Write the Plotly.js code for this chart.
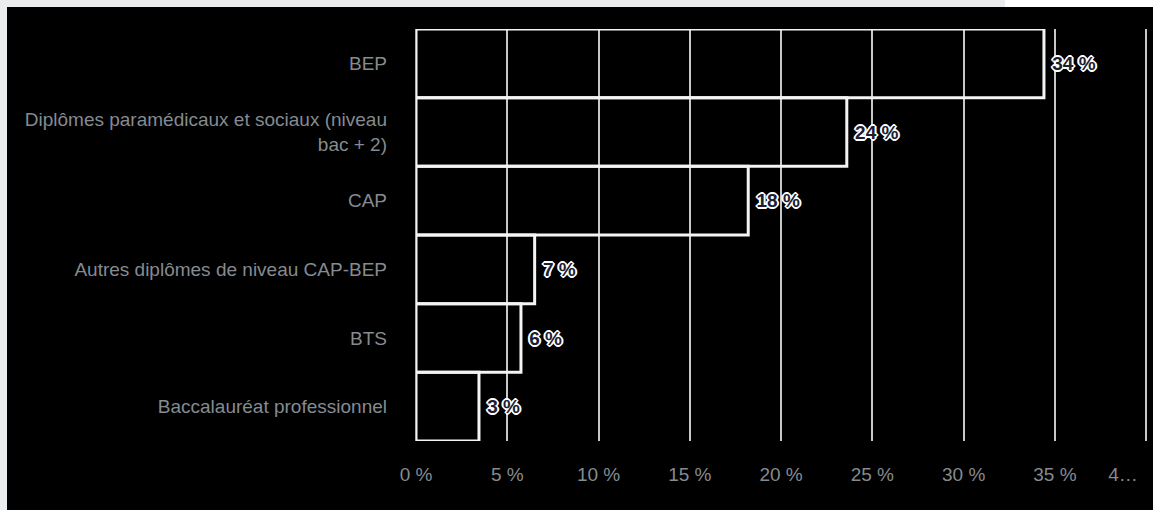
<!DOCTYPE html>
<html>
<head>
<meta charset="utf-8">
<script src="https://cdn.plot.ly/plotly-3.0.1.min.js"></script>
<style>
  html, body { margin: 0; padding: 0; width: 1153px; height: 510px; overflow: hidden; background: #ebecee; }
  #topwhite { position: absolute; left: 1005px; top: 0; width: 148px; height: 7px; background: #ffffff; }
  #chart { position: absolute; left: 7px; top: 7px; width: 1146px; height: 503px; background: #000; }
</style>
</head>
<body>
<div id="topwhite"></div>
<div id="chart"></div>
<script>
const categories = [
  "BEP",
  "Diplômes paramédicaux et sociaux (niveau<br>bac + 2)",
  "CAP",
  "Autres diplômes de niveau CAP-BEP",
  "BTS",
  "Baccalauréat professionnel"
];
const values = [34.4, 23.6, 18.2, 6.5, 5.75, 3.45];
const valueLabels = ["34 %", "24 %", "18 %", "7 %", "6 %", "3 %"];
const tickVals = [0, 5, 10, 15, 20, 25, 30, 35, 40];
const tickText = ["0 %", "5 %", "10 %", "15 %", "20 %", "25 %", "30 %", "35 %", ""];
// the last (40 %) label is shown truncated, slightly left of its gridline
const truncatedTickVal = [38.73];
const truncatedTickText = ["4…"];

const trace = {
  type: "bar",
  orientation: "h",
  x: values,
  y: categories,
  text: valueLabels,
  texttemplate: "\u00a0%{text}",
  textposition: "outside",
  cliponaxis: false,
  textfont: {
    family: "Arial, 'Liberation Sans', sans-serif",
    size: 19,
    weight: "bold",
    color: "#1a2030",
    shadow: "1px 1px 0 #fff, -1px -1px 0 #fff, 1px -1px 0 #fff, -1px 1px 0 #fff, 0 2px 0 #fff, 0 -2px 0 #fff, 2px 0 0 #fff, -2px 0 0 #fff"
  },
  marker: { color: "rgba(0,0,0,0)", line: { color: "#f4f4f4", width: 3 } },
  hoverinfo: "none"
};

const axisHolder = { type: "scatter", mode: "markers", x: [], y: [], xaxis: "x2", yaxis: "y", hoverinfo: "none", showlegend: false };

const layout = {
  width: 1146,
  height: 503,
  paper_bgcolor: "#000000",
  plot_bgcolor: "#000000",
  margin: { l: 409, r: 5, t: 22, b: 69, pad: 0 },
  showlegend: false,
  bargap: 0,
  font: { family: "Arial, 'Liberation Sans', sans-serif", size: 18, color: "#858b90" },
  xaxis: {
    range: [0, 40.1],
    tickvals: tickVals,
    ticktext: tickText,
    showgrid: true,
    gridcolor: "#c8c8c8",
    gridwidth: 2,
    zeroline: true,
    zerolinecolor: "#aab0bc",
    zerolinewidth: 2,
    showline: false,
    ticks: "",
    ticklabelstandoff: 20,
    tickfont: { size: 19, color: "#858b90" }
  },
  xaxis2: {
    overlaying: "x",
    anchor: "y",
    side: "bottom",
    range: [0, 40.1],
    tickvals: truncatedTickVal,
    ticktext: truncatedTickText,
    showgrid: false,
    zeroline: false,
    showline: false,
    ticks: "",
    ticklabelstandoff: 20,
    tickfont: { size: 19, color: "#858b90" }
  },
  yaxis: {
    type: "category",
    autorange: "reversed",
    showgrid: false,
    zeroline: false,
    showline: false,
    ticks: "",
    ticklabelstandoff: 28,
    tickfont: { size: 19, color: "#858b90" }
  }
};

Plotly.newPlot("chart", [trace, axisHolder], layout, { displayModeBar: false, staticPlot: true });
</script>
</body>
</html>
